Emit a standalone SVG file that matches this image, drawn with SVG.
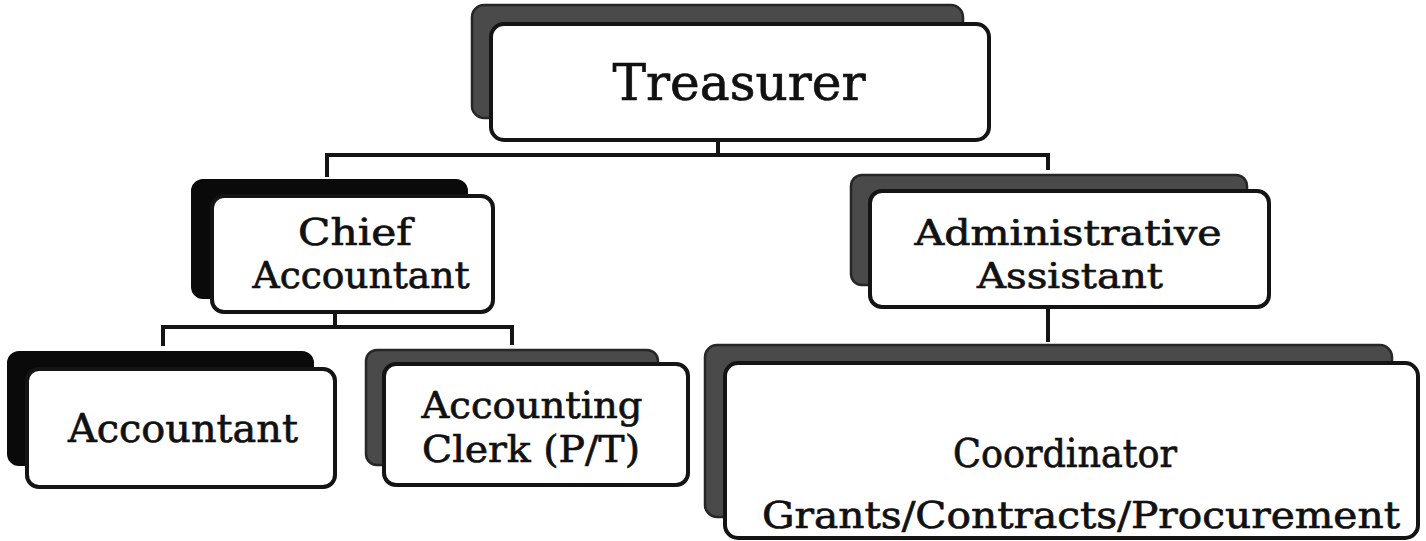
<svg xmlns="http://www.w3.org/2000/svg" width="1426" height="541" viewBox="0 0 1426 541">
  <style>
    .card { fill: #ffffff; stroke: #141414; stroke-width: 4; }
    .back-dark { fill: #0a0a0a; stroke: #0a0a0a; stroke-width: 2; }
    .back-grey { fill: #4a4a4a; stroke: #262626; stroke-width: 2.5; }
    .label { font-family: "DejaVu Serif", "Liberation Serif", serif; fill: #111111; stroke: #111111; stroke-width: 0.7; text-anchor: middle; }
    .wire { fill: none; stroke: #141414; stroke-width: 4; stroke-linecap: square; }
  </style>
  <rect width="1426" height="541" fill="#ffffff"/>

  <!-- reporting lines -->
  <g id="connectors">
    <path class="wire" d="M718 140 V155 M327 175 V155 H1048 V168"/>
    <path class="wire" d="M335 312 V327 M163 344 V327 H512 V343"/>
    <path class="wire" d="M1048 307 V340"/>
  </g>

  <g id="treasurer">
    <rect class="back-grey" x="472" y="5" width="491" height="113" rx="12"/>
    <rect class="card" x="491" y="24" width="498" height="116" rx="13"/>
    <text class="label" x="739" y="100" font-size="50" textLength="253" lengthAdjust="spacingAndGlyphs">Treasurer</text>
  </g>

  <g id="chief-accountant">
    <rect class="back-dark" x="192" y="180" width="275" height="118" rx="11"/>
    <rect class="card" x="212" y="196" width="281" height="116" rx="12"/>
    <text class="label" x="355" y="245" font-size="37" textLength="114" lengthAdjust="spacingAndGlyphs">Chief</text>
    <text class="label" x="361" y="288" font-size="37" textLength="217" lengthAdjust="spacingAndGlyphs">Accountant</text>
  </g>

  <g id="administrative-assistant">
    <rect class="back-grey" x="851" y="175" width="396" height="110" rx="11"/>
    <rect class="card" x="870" y="191" width="399" height="116" rx="12"/>
    <text class="label" x="1068" y="245" font-size="36" textLength="307" lengthAdjust="spacingAndGlyphs">Administrative</text>
    <text class="label" x="1070" y="288" font-size="36" textLength="186" lengthAdjust="spacingAndGlyphs">Assistant</text>
  </g>

  <g id="accountant">
    <rect class="back-dark" x="8" y="352" width="305" height="113" rx="11"/>
    <rect class="card" x="27" y="369" width="308" height="118" rx="12"/>
    <text class="label" x="183" y="442" font-size="40" textLength="230" lengthAdjust="spacingAndGlyphs">Accountant</text>
  </g>

  <g id="accounting-clerk">
    <rect class="back-grey" x="366" y="350" width="292" height="115" rx="11"/>
    <rect class="card" x="384" y="364" width="304" height="121" rx="12"/>
    <text class="label" x="532" y="418" font-size="38" textLength="221" lengthAdjust="spacingAndGlyphs">Accounting</text>
    <text class="label" x="531" y="462" font-size="38" textLength="218" lengthAdjust="spacingAndGlyphs">Clerk (P/T)</text>
  </g>

  <g id="coordinator">
    <rect class="back-grey" x="705" y="345" width="687" height="172" rx="12"/>
    <rect class="card" x="725" y="363" width="693" height="175" rx="13"/>
    <text class="label" x="1065" y="467" font-size="40" textLength="224" lengthAdjust="spacingAndGlyphs">Coordinator</text>
    <text class="label" x="1081" y="528" font-size="38" textLength="638" lengthAdjust="spacingAndGlyphs">Grants/Contracts/Procurement</text>
  </g>
</svg>
